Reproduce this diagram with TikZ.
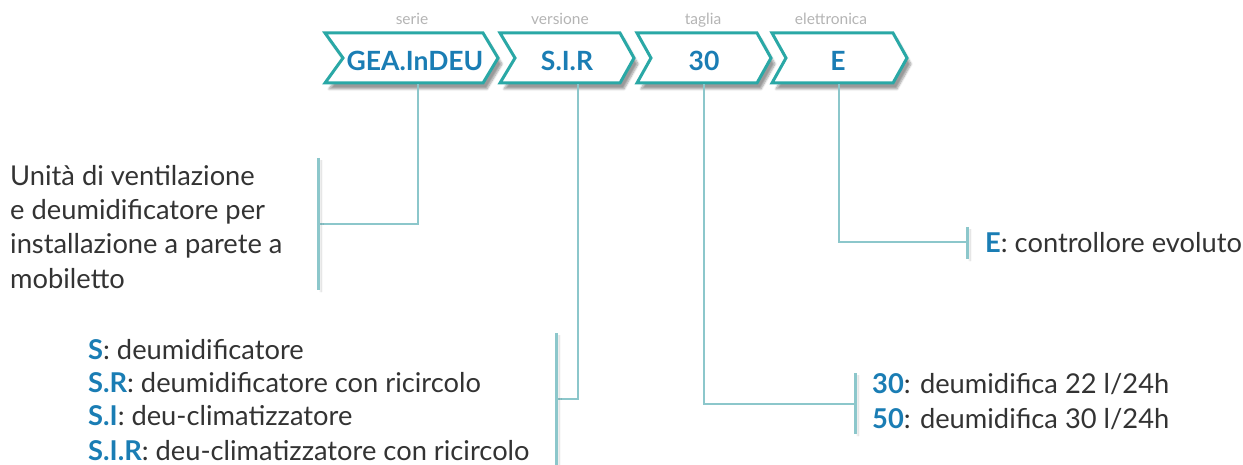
\documentclass[tikz,border=0pt]{standalone}
\usepackage{fontspec}
\setmainfont{Lato}
\usetikzlibrary{shadows.blur,calc}
\definecolor{tealc}{HTML}{2AA8A6}
\definecolor{blu}{HTML}{1A7DB4}
\definecolor{linec}{HTML}{8CC7CB}
\definecolor{txt}{HTML}{333333}
\definecolor{capc}{HTML}{B4B4B4}
\begin{document}
\begin{tikzpicture}[x=1pt,y=-1pt,
 chev/.style={draw=tealc, line width=3pt, fill=white, line join=miter,
   blur shadow={shadow xshift=4pt, shadow yshift=-6pt, shadow blur steps=7, shadow opacity=40}},
 code/.style={font=\bfseries\fontsize{26.5}{30}\selectfont, text=blu, inner sep=0pt},
 capt/.style={font=\fontsize{15.5}{18}\selectfont, text=capc, inner sep=0pt, anchor=base},
 conn/.style={draw=linec, line width=1.4pt},
 bar/.style={draw=linec, line width=3pt,
   blur shadow={shadow xshift=3pt, shadow yshift=-2pt, shadow blur steps=5, shadow opacity=20}},
 desc/.style={font=\fontsize{27.3}{32}\selectfont, text=txt, inner sep=0pt, anchor=base west}
]
\useasboundingbox (0,0) rectangle (1243,465);

% chevrons
\path[chev] (325,33) -- (483,33) -- (498,58) -- (483,83) -- (325,83) -- (343,58) -- cycle;
\path[chev] (500,33) -- (620,33) -- (634,58) -- (620,83) -- (500,83) -- (515,58) -- cycle;
\path[chev] (637,33) -- (757,33) -- (771,58) -- (757,83) -- (637,83) -- (651,58) -- cycle;
\path[chev] (772,33) -- (893,33) -- (907,58) -- (893,83) -- (772,83) -- (786,58) -- cycle;

\node[code] (c1) at (415,61) {GEA.InDEU};
\node[code] (c2) at (567,61) {S.I.R};
\node[code] (c3) at (704,61) {30};
\node[code] (c4) at (838,61) {E};

\node[capt] (t1) at (412,25) {serie};
\node[capt] (t2) at (560,25) {versione};
\node[capt] (t3) at (703,25) {taglia};
\node[capt] (t4) at (831,25) {elettronica};

% drop points
\coordinate (d1) at (418,84);
\coordinate (d2) at (578,84);
\coordinate (d3) at (704,84);
\coordinate (d4) at (839,84);

% bars
\coordinate (b1t) at (318,158); \coordinate (b1b) at (318,290); \coordinate (b1m) at (318,224);
\coordinate (b2t) at (556,333); \coordinate (b2b) at (556,468); \coordinate (b2m) at (556,399);
\coordinate (b3t) at (855,373); \coordinate (b3b) at (855,434); \coordinate (b3m) at (855,404);
\coordinate (b4t) at (967,227); \coordinate (b4b) at (967,259); \coordinate (b4m) at (967,242);

\draw[conn] (d1) |- (b1m);
\draw[conn] (d2) |- (b2m);
\draw[conn] (d3) |- (b3m);
\draw[conn] (d4) |- (b4m);

\path[bar] (b1t) -- (b1b);
\path[bar] (b2t) -- (b2b);
\path[bar] (b3t) -- (b3b);
\path[bar] (b4t) -- (b4b);

% left description
\node[desc] (l1) at (10,186) {Unità di ventilazione};
\node[desc] (l2) at (10,220) {e deumidificatore per};
\node[desc] (l3) at (10,254) {installazione a parete a};
\node[desc] (l4) at (10,288) {mobiletto};

% versions
\node[desc] (v1) at (88,359) {{\bfseries\color{blu}S}: deumidificatore};
\node[desc] (v2) at (88,392) {{\bfseries\color{blu}S.R}: deumidificatore con ricircolo};
\node[desc] (v3) at (88,425) {{\bfseries\color{blu}S.I}: deu-climatizzatore};
\node[desc] (v4) at (88,460) {{\bfseries\color{blu}S.I.R}: deu-climatizzatore con ricircolo};

% sizes
\node[desc] (s1) at (872,393) {{\bfseries\color{blu}30}: deumidifica 22 l/24h};
\node[desc] (s2) at (872,428) {{\bfseries\color{blu}50}: deumidifica 30 l/24h};

% electronics
\node[desc] (e1) at (985,253) {{\bfseries\color{blu}E}: controllore evoluto};
\end{tikzpicture}
\end{document}
